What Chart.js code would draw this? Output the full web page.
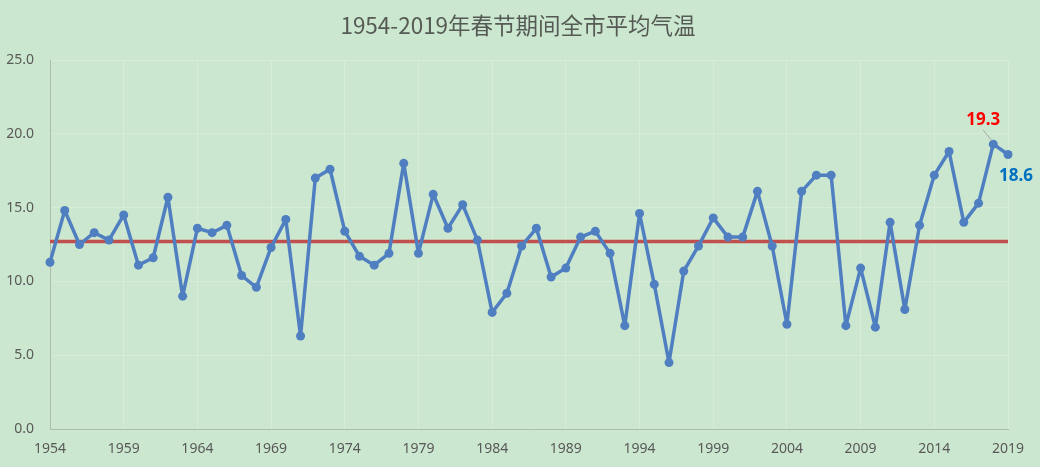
<!DOCTYPE html>
<html>
<head>
<meta charset="utf-8">
<script src="https://cdn.jsdelivr.net/npm/chart.js@4"></script>
<style>
  html, body { margin: 0; padding: 0; background: #cce7cf; }
  #wrap { width: 1040px; height: 467px; position: relative; }
</style>
</head>
<body>
<div id="wrap"><canvas id="temp-chart" width="1040" height="467"></canvas></div>
<script>
// --- Data ---
var years = [
  1954, 1955, 1956, 1957, 1958, 1959, 1960, 1961, 1962, 1963,
  1964, 1965, 1966, 1967, 1968, 1969, 1970, 1971, 1972, 1973,
  1974, 1975, 1976, 1977, 1978, 1979, 1980, 1981, 1982, 1983,
  1984, 1985, 1986, 1987, 1988, 1989, 1990, 1991, 1992, 1993,
  1994, 1995, 1996, 1997, 1998, 1999, 2000, 2001, 2002, 2003,
  2004, 2005, 2006, 2007, 2008, 2009, 2010, 2011, 2012, 2013,
  2014, 2015, 2016, 2017, 2018, 2019
];
var temps = [
  11.3, 14.8, 12.5, 13.3, 12.8, 14.5, 11.1, 11.6, 15.7, 9.0,
  13.6, 13.3, 13.8, 10.4, 9.6, 12.3, 14.2, 6.3, 17.0, 17.6,
  13.4, 11.7, 11.1, 11.9, 18.0, 11.9, 15.9, 13.6, 15.2, 12.8,
  7.9, 9.2, 12.4, 13.6, 10.3, 10.9, 13.0, 13.4, 11.9, 7.0,
  14.6, 9.8, 4.5, 10.7, 12.4, 14.3, 13.0, 13.0, 16.1, 12.4,
  7.1, 16.1, 17.2, 17.2, 7.0, 10.9, 6.9, 14.0, 8.1, 13.8,
  17.2, 18.8, 14.0, 15.3, 19.3, 18.6
];
// average reference line (red), endpoints
var avgYears = [1954, 2019];
var avgTemps = [12.7, 12.7];

var xTicks = [1954, 1959, 1964, 1969, 1974, 1979, 1984, 1989, 1994, 1999, 2004, 2009, 2014, 2019];
var yTicks = [0, 5, 10, 15, 20, 25];

// labelled points: which year, colour, offset from the point
var callouts = [
  { year: 2018, color: '#ff0000', dx: -10, dy: -24, leader: true },
  { year: 2019, color: '#0070c0', dx: 8, dy: 22, leader: false }
];

var tickColor = '#595959';

function pts(xs, ys) {
  return xs.map(function (x, i) { return { x: x, y: ys[i] }; });
}

var titlePlugin = {
  id: 'titleText',
  afterDraw: function (chart) {
    var c = chart.ctx;
    c.save();
    c.font = '22.5px "Noto Sans CJK SC", "Noto Sans", sans-serif';
    c.fillStyle = '#555a55';
    c.textAlign = 'center';
    c.textBaseline = 'middle';
    c.fillText('1954-2019年春节期间全市平均气温', 518, 25);
    c.restore();
  }
};

var calloutPlugin = {
  id: 'callouts',
  afterDatasetsDraw: function (chart) {
    var c = chart.ctx;
    var xs = chart.scales.x, ys = chart.scales.y;
    c.save();
    callouts.forEach(function (co) {
      var v = temps[years.indexOf(co.year)];
      var px = xs.getPixelForValue(co.year);
      var py = ys.getPixelForValue(v);
      var lx = px + co.dx, ly = py + co.dy;
      if (co.leader) {
        c.strokeStyle = '#a6a6a6';
        c.lineWidth = 1;
        c.beginPath();
        c.moveTo(lx, ly + 10);
        c.lineTo(px - 1, py - 3);
        c.stroke();
      }
      c.font = 'bold 17px "Noto Sans", sans-serif';
      c.fillStyle = co.color;
      c.textAlign = 'center';
      c.textBaseline = 'middle';
      c.fillText(v.toFixed(1), lx, ly);
    });
    c.restore();
  }
};

new Chart(document.getElementById('temp-chart').getContext('2d'), {
  type: 'line',
  data: {
    datasets: [{
      data: pts(avgYears, avgTemps),
      borderColor: '#c0504d',
      borderWidth: 3.5,
      pointRadius: 0,
      clip: false,
      order: 2
    }, {
      data: pts(years, temps),
      borderColor: '#4f7fc1',
      backgroundColor: '#4f7fc1',
      borderWidth: 3.5,
      borderJoinStyle: 'round',
      borderCapStyle: 'round',
      pointRadius: 4.5,
      pointBorderWidth: 0,
      tension: 0,
      clip: false,
      order: 1
    }]
  },
  options: {
    responsive: false,
    animation: false,
    events: [],
    layout: { padding: { left: 0, right: 32, top: 60, bottom: 0 } },
    plugins: {
      legend: { display: false },
      tooltip: { enabled: false },
      title: { display: false }
    },
    scales: {
      x: {
        type: 'linear',
        min: 1954,
        max: 2019,
        afterBuildTicks: function (axis) {
          axis.ticks = xTicks.map(function (v) { return { value: v }; });
        },
        afterFit: function (axis) { axis.height = 38; },
        ticks: {
          color: tickColor,
          padding: 12,
          maxRotation: 0,
          autoSkip: false,
          font: { family: '"Noto Sans", sans-serif', size: 14 },
          callback: function (v) { return String(v); }
        },
        grid: { color: 'rgba(255,255,255,0.2)', drawTicks: false },
        border: { color: '#aebcaf', width: 1 }
      },
      y: {
        min: 0,
        max: 25,
        afterBuildTicks: function (axis) {
          axis.ticks = yTicks.map(function (v) { return { value: v }; });
        },
        afterFit: function (axis) { axis.width = 50; },
        ticks: {
          color: tickColor,
          padding: 16,
          font: { family: '"Noto Sans", sans-serif', size: 14 },
          callback: function (v) { return v.toFixed(1); }
        },
        grid: { color: 'rgba(255,255,255,0.2)', drawTicks: false },
        border: { color: '#aebcaf', width: 1 }
      }
    }
  },
  plugins: [titlePlugin, calloutPlugin]
});
</script>
</body>
</html>
